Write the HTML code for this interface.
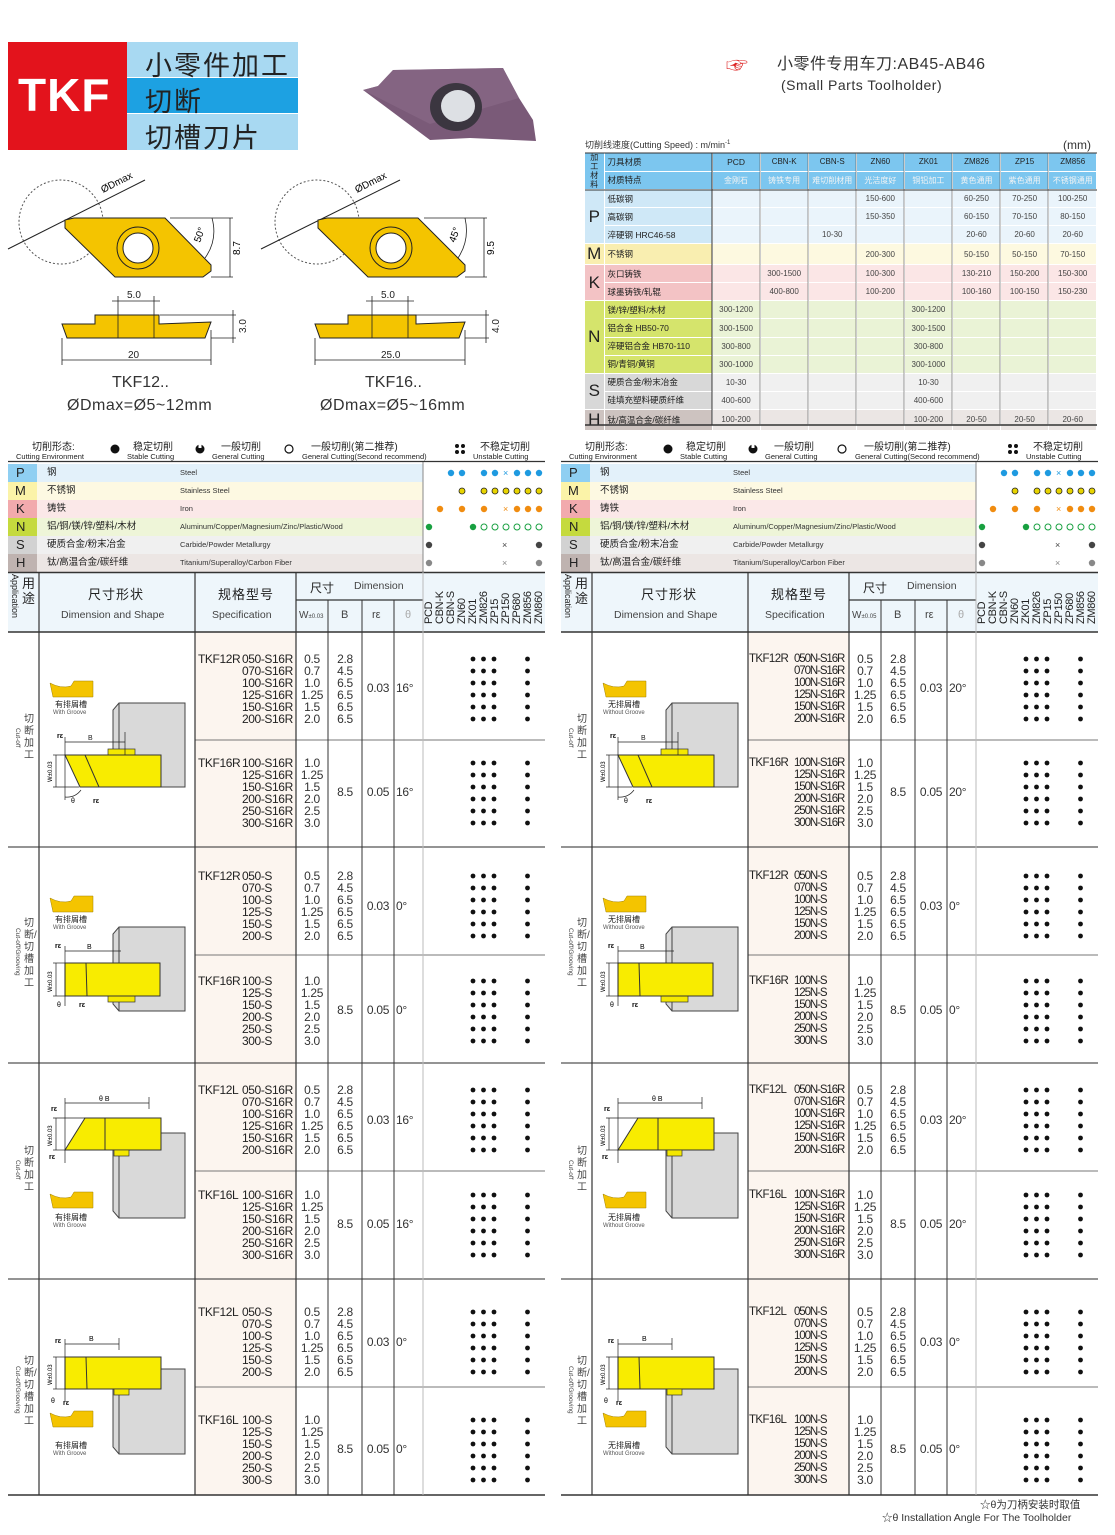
<!DOCTYPE html>
<html><head><meta charset="utf-8">
<style>
*{margin:0;padding:0;box-sizing:border-box}
body{width:1115px;height:1535px;position:relative;background:#fff;font-family:"Liberation Sans","Noto Sans CJK SC",sans-serif;color:#222;overflow:hidden}
.a{position:absolute;white-space:nowrap}
.pn{position:absolute;top:0;width:545px;height:1535px}
.sp{position:absolute;left:234px;font-size:12px;line-height:12px;letter-spacing:-0.4px}
.pf{position:absolute;left:-44px}
.pn2 .sp{left:233px;font-size:11.5px;letter-spacing:-1.1px}
.pn2 .pf{left:-45px;letter-spacing:-0.6px}
.c{position:absolute;text-align:center;font-size:12px;line-height:12px;letter-spacing:-0.3px;color:#333}
.w{left:288px;width:32px}.b{left:320px;width:34px}.r{left:354px;width:32px}.t{left:388px;width:26px;text-align:left}
.rot{position:absolute;transform:rotate(90deg);transform-origin:0 0;white-space:nowrap}
.gn{position:absolute;transform:rotate(-90deg);transform-origin:0 0;font-size:11px;white-space:nowrap;letter-spacing:-0.3px}
table.st{position:absolute;left:585px;top:153px;width:512px;border-collapse:collapse;font-size:8px;table-layout:fixed}
table.st td{height:18.08px;text-align:center;color:#444;border-right:1px solid #fff;border-bottom:1px solid #fff;padding:0;white-space:nowrap;overflow:hidden}
table.st td.n{text-align:left;padding-left:3px;font-size:8.5px;color:#222}
table.st td.L{font-size:17px;color:#222}
</style></head><body>

<div class="a" style="left:8px;top:42px;width:119px;height:108px;background:#e3131c"></div>
<div class="a" style="left:18px;top:68px;color:#fff;font-size:46px;font-weight:bold;letter-spacing:1px">TKF</div>
<div class="a" style="left:127px;top:42px;width:171px;height:35px;background:#a8d9f2"></div>
<div class="a" style="left:127px;top:78px;width:171px;height:35px;background:#1da1e2"></div>
<div class="a" style="left:127px;top:114px;width:171px;height:36px;background:#a8d9f2"></div>
<div class="a" style="left:145px;top:44px;font-size:27px;letter-spacing:2px">小零件加工</div>
<div class="a" style="left:145px;top:80px;font-size:27px;letter-spacing:2px">切断</div>
<div class="a" style="left:145px;top:116px;font-size:27px;letter-spacing:2px">切槽刀片</div>

<div class="a" style="left:726px;top:48px;font-size:22px;color:#d22">☞</div>
<div class="a" style="left:777px;top:50px;font-size:16px;color:#333;letter-spacing:0.5px">小零件专用车刀:AB45-AB46</div>
<div class="a" style="left:781px;top:77px;font-size:14px;color:#333;letter-spacing:0.5px">(Small Parts Toolholder)</div>

<div class="a" style="left:585px;top:138px;font-size:9px;color:#333">切削线速度(Cutting Speed) : m/min<sup style="font-size:6px">-1</sup></div>
<div class="a" style="left:1063px;top:138px;font-size:12px;color:#333">(mm)</div>

<svg class="a" style="left:0;top:0" width="560" height="430">
<polygon points="363,90 378,86 393,70 503,68 519,98 533,120 536,141 470,138 430,140" fill="#7a5a78"/>
<polygon points="363,90 378,86 393,70 503,68 519,98 430,124" fill="#8a6a88" opacity=".6"/>
<ellipse cx="456" cy="107" rx="26" ry="24" fill="#3b3640"/><ellipse cx="458" cy="106" rx="17" ry="16" fill="#dde0e4"/>
<g fill="none" stroke="#222" stroke-width="1">
<circle cx="61" cy="222" r="42" stroke-dasharray="2,2" stroke="#555"/>
<line x1="8" y1="249" x2="145" y2="180"/>
<circle cx="317" cy="222" r="42" stroke-dasharray="2,2" stroke="#555"/>
<line x1="261" y1="249" x2="400" y2="180"/>
</g>
<polygon points="65,220 74,218 165,218 211,265 211,271 203,277 115,277 65,228" fill="#f4c400" stroke="#222"/>
<circle cx="138" cy="248" r="21" fill="#f4c400" stroke="#222"/><circle cx="138" cy="248" r="15" fill="#fff" stroke="#222"/>
<polygon points="318,220 327,218 418,218 465,265 465,271 457,277 368,277 318,228" fill="#f4c400" stroke="#222"/>
<circle cx="391" cy="248" r="21" fill="#f4c400" stroke="#222"/><circle cx="391" cy="248" r="15" fill="#fff" stroke="#222"/>
<g stroke="#222" fill="none" stroke-width=".8">
<line x1="170" y1="218" x2="233" y2="218"/><line x1="211" y1="277" x2="233" y2="277"/><line x1="230" y1="218" x2="230" y2="277"/>
<line x1="424" y1="218" x2="487" y2="218"/><line x1="465" y1="277" x2="487" y2="277"/><line x1="484" y1="218" x2="484" y2="277"/>
<path d="M212,218 Q218,240 205,258"/><path d="M465,218 Q470,240 458,258"/>
</g>
<text x="200" y="243" font-size="10" transform="rotate(-70 200 243)" font-family="Liberation Sans">50°</text>
<text x="455" y="243" font-size="10" transform="rotate(-70 455 243)" font-family="Liberation Sans">45°</text>
<text x="240" y="255" font-size="10" transform="rotate(-90 240 255)" font-family="Liberation Sans">8.7</text>
<text x="494" y="255" font-size="10" transform="rotate(-90 494 255)" font-family="Liberation Sans">9.5</text>
<text x="103" y="193" font-size="10" transform="rotate(-27 103 193)" font-family="Liberation Sans">ØDmax</text>
<text x="357" y="193" font-size="10" transform="rotate(-27 357 193)" font-family="Liberation Sans">ØDmax</text>
<polygon points="62,324 95,324 95,315 159,315 159,324 211,322 205,338 67,338" fill="#f4c400" stroke="#222"/>
<polygon points="315,324 348,324 348,315 416,315 416,324 465,322 459,338 320,338" fill="#f4c400" stroke="#222"/>
<g stroke="#222" stroke-width=".8" fill="none">
<line x1="118" y1="296" x2="118" y2="338"/><line x1="154" y1="296" x2="154" y2="338"/><line x1="112" y1="301" x2="160" y2="301"/>
<line x1="372" y1="296" x2="372" y2="338"/><line x1="408" y1="296" x2="408" y2="338"/><line x1="366" y1="301" x2="414" y2="301"/>
<line x1="62" y1="338" x2="62" y2="365"/><line x1="211" y1="330" x2="211" y2="365"/><line x1="62" y1="360" x2="211" y2="360"/>
<line x1="315" y1="338" x2="315" y2="365"/><line x1="465" y1="330" x2="465" y2="365"/><line x1="315" y1="360" x2="465" y2="360"/>
<line x1="160" y1="315" x2="236" y2="315"/><line x1="211" y1="338" x2="236" y2="338"/><line x1="233" y1="310" x2="233" y2="343"/>
<line x1="416" y1="315" x2="489" y2="315"/><line x1="465" y1="338" x2="489" y2="338"/><line x1="486" y1="310" x2="486" y2="343"/>
</g>
<g font-family="Liberation Sans" font-size="10" fill="#222">
<text x="127" y="298">5.0</text><text x="381" y="298">5.0</text>
<text x="128" y="358">20</text><text x="381" y="358">25.0</text>
<text x="246" y="333" transform="rotate(-90 246 333)">3.0</text><text x="499" y="333" transform="rotate(-90 499 333)">4.0</text>
</g>
</svg>
<div class="a" style="left:112px;top:374px;font-size:16px;color:#333">TKF12..</div>
<div class="a" style="left:67px;top:397px;font-size:16px;color:#333;letter-spacing:.5px">ØDmax=Ø5~12mm</div>
<div class="a" style="left:365px;top:374px;font-size:16px;color:#333">TKF16..</div>
<div class="a" style="left:320px;top:397px;font-size:16px;color:#333;letter-spacing:.5px">ØDmax=Ø5~16mm</div>

<table class="st">
<colgroup><col style="width:19px"><col style="width:108px"><col span="8" style="width:48.1px"></colgroup>
<tr style="background:#7cc6ef"><td rowspan="2" style="font-size:8px;line-height:9px;color:#222">加<br>工<br>材<br>料</td><td class="n">刀具材质</td><td style="font-size:8.5px;color:#222">PCD</td><td style="color:#222">CBN-K</td><td style="color:#222">CBN-S</td><td style="color:#222">ZN60</td><td style="color:#222">ZK01</td><td style="color:#222">ZM826</td><td style="color:#222">ZP15</td><td style="color:#222">ZM856</td></tr>
<tr style="background:#7cc6ef;color:#fff"><td class="n">材质特点</td><td style="color:#f4f4f4">金刚石</td><td style="color:#f4f4f4">铸铁专用</td><td style="color:#f4f4f4">难切削材用</td><td style="color:#f4f4f4">光洁度好</td><td style="color:#f4f4f4">铜铝加工</td><td style="color:#f4f4f4">黄色通用</td><td style="color:#f4f4f4">紫色通用</td><td style="color:#f4f4f4">不锈钢通用</td></tr>
<tr style="background:#eaf4fb"><td rowspan="3" class="L" style="background:#cfe8f7">P</td><td class="n" style="background:#cfe8f7">低碳钢</td><td></td><td></td><td></td><td>150-600</td><td></td><td>60-250</td><td>70-250</td><td>100-250</td></tr>
<tr style="background:#eaf4fb"><td class="n" style="background:#cfe8f7">高碳钢</td><td></td><td></td><td></td><td>150-350</td><td></td><td>60-150</td><td>70-150</td><td>80-150</td></tr>
<tr style="background:#eaf4fb"><td class="n" style="background:#cfe8f7">淬硬钢 HRC46-58</td><td></td><td></td><td>10-30</td><td></td><td></td><td>20-60</td><td>20-60</td><td>20-60</td></tr>
<tr style="background:#fdf9e0"><td class="L" style="background:#f9eeb0">M</td><td class="n" style="background:#f9eeb0">不锈钢</td><td></td><td></td><td></td><td>200-300</td><td></td><td>50-150</td><td>50-150</td><td>70-150</td></tr>
<tr style="background:#fbe6e6"><td rowspan="2" class="L" style="background:#f3c3c5">K</td><td class="n" style="background:#f3c3c5">灰口铸铁</td><td></td><td>300-1500</td><td></td><td>100-300</td><td></td><td>130-210</td><td>150-200</td><td>150-300</td></tr>
<tr style="background:#fbe6e6"><td class="n" style="background:#f3c3c5">球墨铸铁/轧辊</td><td></td><td>400-800</td><td></td><td>100-200</td><td></td><td>100-160</td><td>100-150</td><td>150-230</td></tr>
<tr style="background:#eaf3d6"><td rowspan="4" class="L" style="background:#d5e46c">N</td><td class="n" style="background:#d5e46c">镁/锌/塑料/木材</td><td>300-1200</td><td></td><td></td><td></td><td>300-1200</td><td></td><td></td><td></td></tr>
<tr style="background:#eaf3d6"><td class="n" style="background:#d5e46c">铝合金 HB50-70</td><td>300-1500</td><td></td><td></td><td></td><td>300-1500</td><td></td><td></td><td></td></tr>
<tr style="background:#eaf3d6"><td class="n" style="background:#d5e46c">淬硬铝合金 HB70-110</td><td>300-800</td><td></td><td></td><td></td><td>300-800</td><td></td><td></td><td></td></tr>
<tr style="background:#eaf3d6"><td class="n" style="background:#d5e46c">铜/青铜/黄铜</td><td>300-1000</td><td></td><td></td><td></td><td>300-1000</td><td></td><td></td><td></td></tr>
<tr style="background:#f0f0f0"><td rowspan="2" class="L" style="background:#d8d8d8">S</td><td class="n" style="background:#d8d8d8">硬质合金/粉末冶金</td><td>10-30</td><td></td><td></td><td></td><td>10-30</td><td></td><td></td><td></td></tr>
<tr style="background:#f0f0f0"><td class="n" style="background:#d8d8d8">硅填充塑料硬质纤维</td><td>400-600</td><td></td><td></td><td></td><td>400-600</td><td></td><td></td><td></td></tr>
<tr style="background:#ebe6e4"><td class="L" style="background:#cdc3c0">H</td><td class="n" style="background:#cdc3c0">钛/高温合金/碳纤维</td><td>100-200</td><td></td><td></td><td></td><td>100-200</td><td>20-50</td><td>20-50</td><td>20-60</td></tr>
</table>
<svg class="a" style="left:0;top:0" width="1115" height="430"><line x1="585" y1="153" x2="1097" y2="153" stroke="#333"/><line x1="585" y1="425" x2="1097" y2="425" stroke="#333" stroke-width="1.5"/><line x1="712" y1="153" x2="712" y2="425" stroke="#333"/><line x1="760" y1="153" x2="760" y2="425" stroke="#555" stroke-width=".6"/><line x1="808" y1="153" x2="808" y2="425" stroke="#555" stroke-width=".6"/><line x1="856" y1="153" x2="856" y2="425" stroke="#555" stroke-width=".6"/><line x1="904" y1="153" x2="904" y2="425" stroke="#555" stroke-width=".6"/><line x1="952" y1="153" x2="952" y2="425" stroke="#555" stroke-width=".6"/><line x1="1000" y1="153" x2="1000" y2="425" stroke="#555" stroke-width=".6"/><line x1="1048" y1="153" x2="1048" y2="425" stroke="#555" stroke-width=".6"/><line x1="585" y1="190" x2="1097" y2="190" stroke="#333"/></svg>

<svg width="0" height="0" style="position:absolute">
<defs>
<g id="d6" fill="#111">
<circle cx="0" cy="0" r="2.4"/><circle cx="10.5" cy="0" r="2.4"/><circle cx="21" cy="0" r="2.4"/><circle cx="54.5" cy="0" r="2.4"/>
<circle cx="0" cy="12" r="2.4"/><circle cx="10.5" cy="12" r="2.4"/><circle cx="21" cy="12" r="2.4"/><circle cx="54.5" cy="12" r="2.4"/>
<circle cx="0" cy="24" r="2.4"/><circle cx="10.5" cy="24" r="2.4"/><circle cx="21" cy="24" r="2.4"/><circle cx="54.5" cy="24" r="2.4"/>
<circle cx="0" cy="36" r="2.4"/><circle cx="10.5" cy="36" r="2.4"/><circle cx="21" cy="36" r="2.4"/><circle cx="54.5" cy="36" r="2.4"/>
<circle cx="0" cy="48" r="2.4"/><circle cx="10.5" cy="48" r="2.4"/><circle cx="21" cy="48" r="2.4"/><circle cx="54.5" cy="48" r="2.4"/>
<circle cx="0" cy="60" r="2.4"/><circle cx="10.5" cy="60" r="2.4"/><circle cx="21" cy="60" r="2.4"/><circle cx="54.5" cy="60" r="2.4"/>
</g>
<g id="icoT"><path d="M11,51 Q22,57 32,54 L35,49 L54,49 L54,65 L14,65 Z" fill="#f4c400" stroke="#a08000" stroke-width=".5"/></g>
<g id="tR">
<path d="M80,71 L146,71 L146,155 L80,155 L74,148 L74,78 Z" fill="#d9d9d9" stroke="#444"/><line x1="80" y1="71" x2="80" y2="155" stroke="#444"/>
<rect x="69" y="117" width="27" height="6" fill="#f4e800" stroke="#333" stroke-width=".7"/>
<polygon points="26,123 122,123 122,155 41,155" fill="#f8ec00" stroke="#333"/>
<line x1="46" y1="123" x2="60" y2="155" stroke="#333"/>
<g stroke="#222" stroke-width=".7" fill="none"><line x1="26" y1="110" x2="86" y2="110"/><line x1="86" y1="100" x2="86" y2="123"/><line x1="26" y1="105" x2="26" y2="168"/><line x1="14" y1="123" x2="26" y2="123"/><line x1="14" y1="155" x2="40" y2="155"/><line x1="17" y1="123" x2="17" y2="155"/><path d="M26,165 Q36,166 42,158"/></g>
<text x="49" y="108" font-size="7" font-family="Liberation Sans" fill="#222">B</text><text x="18" y="106" font-size="7" font-weight="bold" font-family="Liberation Sans">rε</text><text x="54" y="171" font-size="7" font-weight="bold" font-family="Liberation Sans">rε</text><text x="32" y="171" font-size="7" font-family="Liberation Sans">θ</text>
<text x="13" y="150" font-size="6" font-family="Liberation Sans" transform="rotate(-90 13 150)">W±0.03</text>
</g>
<g id="tR0">
<path d="M80,71 L146,71 L146,155 L80,155 L74,148 L74,78 Z" fill="#d9d9d9" stroke="#444"/><line x1="80" y1="71" x2="80" y2="155" stroke="#444"/>
<rect x="69" y="140" width="27" height="6" fill="#f4e800" stroke="#333" stroke-width=".7"/>
<rect x="26" y="107" width="95" height="33" fill="#f8ec00" stroke="#333"/>
<line x1="47" y1="107" x2="48" y2="140" stroke="#333"/>
<g stroke="#222" stroke-width=".7" fill="none"><line x1="26" y1="95" x2="82" y2="95"/><line x1="26" y1="90" x2="26" y2="150"/><line x1="14" y1="107" x2="26" y2="107"/><line x1="14" y1="140" x2="26" y2="140"/><line x1="17" y1="107" x2="17" y2="140"/></g>
<text x="48" y="93" font-size="7" font-family="Liberation Sans">B</text><text x="16" y="92" font-size="7" font-weight="bold" font-family="Liberation Sans">rε</text><text x="40" y="151" font-size="7" font-weight="bold" font-family="Liberation Sans">rε</text><text x="18" y="151" font-size="7" font-family="Liberation Sans">θ</text>
<text x="13" y="136" font-size="6" font-family="Liberation Sans" transform="rotate(-90 13 136)">W±0.03</text>
</g>
<g id="tL">
<path d="M80,70 L146,70 L146,155 L80,155 L74,148 L74,77 Z" fill="#d9d9d9" stroke="#444"/><line x1="80" y1="70" x2="80" y2="155" stroke="#444"/>
<polygon points="46,55 122,55 122,87 26,87" fill="#f8ec00" stroke="#333"/>
<line x1="66" y1="55" x2="66" y2="87" stroke="#333"/>
<rect x="75" y="87" width="15" height="6" fill="#f4e800" stroke="#333" stroke-width=".7"/>
<g stroke="#222" stroke-width=".7" fill="none"><line x1="26" y1="40" x2="110" y2="40"/><line x1="110" y1="34" x2="110" y2="46"/><line x1="26" y1="35" x2="26" y2="100"/><line x1="14" y1="55" x2="46" y2="55"/><line x1="14" y1="87" x2="26" y2="87"/><line x1="17" y1="55" x2="17" y2="87"/></g>
<text x="60" y="38" font-size="7" font-family="Liberation Sans">θ  B</text><text x="12" y="48" font-size="7" font-weight="bold" font-family="Liberation Sans">rε</text><text x="10" y="96" font-size="7" font-weight="bold" font-family="Liberation Sans">rε</text>
<text x="13" y="83" font-size="6" font-family="Liberation Sans" transform="rotate(-90 13 83)">W±0.03</text>
</g>
<g id="tL0">
<path d="M80,70 L146,70 L146,155 L80,155 L74,148 L74,77 Z" fill="#d9d9d9" stroke="#444"/><line x1="80" y1="70" x2="80" y2="155" stroke="#444"/>
<rect x="26" y="58" width="96" height="32" fill="#f8ec00" stroke="#333"/>
<line x1="47" y1="58" x2="48" y2="90" stroke="#333"/>
<rect x="75" y="90" width="15" height="6" fill="#f4e800" stroke="#333" stroke-width=".7"/>
<g stroke="#222" stroke-width=".7" fill="none"><line x1="26" y1="45" x2="80" y2="45"/><line x1="80" y1="39" x2="80" y2="51"/><line x1="26" y1="40" x2="26" y2="102"/><line x1="14" y1="58" x2="26" y2="58"/><line x1="14" y1="90" x2="26" y2="90"/><line x1="17" y1="58" x2="17" y2="90"/></g>
<text x="50" y="42" font-size="7" font-family="Liberation Sans">B</text><text x="16" y="44" font-size="7" font-weight="bold" font-family="Liberation Sans">rε</text><text x="24" y="106" font-size="7" font-weight="bold" font-family="Liberation Sans">rε</text><text x="12" y="104" font-size="7" font-family="Liberation Sans">θ</text>
<text x="13" y="86" font-size="6" font-family="Liberation Sans" transform="rotate(-90 13 86)">W±0.03</text>
</g>
<g id="leg">
<circle cx="107" cy="12" r="4.5" fill="#111"/>
<circle cx="192" cy="12" r="4.5" fill="#111"/><rect x="190.5" y="7" width="3" height="4" fill="#fff"/>
<circle cx="281" cy="12" r="4" fill="none" stroke="#111" stroke-width="1.2"/>
<g fill="#111"><circle cx="449" cy="9" r="2"/><circle cx="455" cy="9" r="2"/><circle cx="449" cy="15" r="2"/><circle cx="455" cy="15" r="2"/></g>
</g>
<g id="mat">
<rect x="0" y="464" width="29" height="18" fill="#8fcff2"/><rect x="29" y="464" width="386" height="18" fill="#e3f1fa"/>
<rect x="0" y="482" width="29" height="18" fill="#fbf3a8"/><rect x="29" y="482" width="386" height="18" fill="#fdf9e2"/>
<rect x="0" y="500" width="29" height="18" fill="#f2aaad"/><rect x="29" y="500" width="386" height="18" fill="#fbe8e8"/>
<rect x="0" y="518" width="29" height="18" fill="#c5da3e"/><rect x="29" y="518" width="386" height="18" fill="#eef5d8"/>
<rect x="0" y="536" width="29" height="18" fill="#d2d2d2"/><rect x="29" y="536" width="386" height="18" fill="#f0f0f0"/>
<rect x="0" y="554" width="29" height="18" fill="#bfb3b0"/><rect x="29" y="554" width="386" height="18" fill="#ece6e4"/>
<g fill="#1e9ae0"><circle cx="443" cy="473" r="3.2"/><circle cx="454" cy="473" r="3.2"/><circle cx="476" cy="473" r="3.2"/><circle cx="487" cy="473" r="3.2"/><circle cx="509" cy="473" r="3.2"/><circle cx="520" cy="473" r="3.2"/><circle cx="531" cy="473" r="3.2"/></g>
<text x="495" y="476" font-size="9" fill="#1e9ae0" font-family="Liberation Sans">×</text>
<g fill="#e8d400" stroke="#222" stroke-width=".8"><circle cx="454" cy="491" r="3"/><circle cx="476" cy="491" r="3"/><circle cx="487" cy="491" r="3"/><circle cx="498" cy="491" r="3"/><circle cx="509" cy="491" r="3"/><circle cx="520" cy="491" r="3"/><circle cx="531" cy="491" r="3"/></g>
<g fill="#f08c10"><circle cx="432" cy="509" r="3.2"/><circle cx="454" cy="509" r="3.2"/><circle cx="476" cy="509" r="3.2"/><circle cx="509" cy="509" r="3.2"/><circle cx="520" cy="509" r="3.2"/><circle cx="531" cy="509" r="3.2"/></g>
<text x="495" y="512" font-size="9" fill="#f08c10" font-family="Liberation Sans">×</text>
<circle cx="421" cy="527" r="3.2" fill="#18a040"/><circle cx="465" cy="527" r="3.2" fill="#18a040"/>
<g fill="none" stroke="#18a040" stroke-width="1"><circle cx="476" cy="527" r="3"/><circle cx="487" cy="527" r="3"/><circle cx="498" cy="527" r="3"/><circle cx="509" cy="527" r="3"/><circle cx="520" cy="527" r="3"/><circle cx="531" cy="527" r="3"/></g>
<circle cx="421" cy="545" r="3.2" fill="#444"/><circle cx="531" cy="545" r="3.2" fill="#444"/><text x="494" y="548" font-size="9" fill="#444" font-family="Liberation Sans">×</text>
<circle cx="421" cy="563" r="3.2" fill="#888"/><circle cx="531" cy="563" r="3.2" fill="#888"/><text x="494" y="566" font-size="9" fill="#888" font-family="Liberation Sans">×</text>
<line x1="415" y1="461" x2="415" y2="572" stroke="#888"/>
<rect x="0" y="572" width="537" height="60" fill="#eef6fb"/>
<rect x="187" y="632" width="101" height="863" fill="#fcf5ef"/>
<g stroke="#333" fill="none">
<line x1="0" y1="461.5" x2="537" y2="461.5" stroke-width="1.3"/>
<line x1="0" y1="572.5" x2="537" y2="572.5" stroke-width="1.5"/>
<line x1="0" y1="632" x2="537" y2="632" stroke-width="1.5"/>
<line x1="0" y1="847" x2="537" y2="847" stroke-width="1.2" stroke="#555"/>
<line x1="0" y1="1063" x2="537" y2="1063" stroke-width="1.2" stroke="#555"/>
<line x1="0" y1="1279" x2="537" y2="1279" stroke-width="1.2" stroke="#555"/>
<line x1="0" y1="1495" x2="537" y2="1495" stroke-width="1.5"/>
<line x1="187" y1="740" x2="537" y2="740" stroke="#777"/><line x1="187" y1="955" x2="537" y2="955" stroke="#777"/><line x1="187" y1="1171" x2="537" y2="1171" stroke="#777"/><line x1="187" y1="1387" x2="537" y2="1387" stroke="#777"/>
<line x1="31" y1="572" x2="31" y2="1495" stroke-width="1.2"/><line x1="187" y1="572" x2="187" y2="1495" stroke-width="1.2"/><line x1="288" y1="572" x2="288" y2="1495" stroke-width="1.2"/>
<line x1="288" y1="600" x2="415" y2="600" stroke-width="1.2"/>
<line x1="320" y1="600" x2="320" y2="1495"/><line x1="354" y1="600" x2="354" y2="1495"/><line x1="386" y1="600" x2="386" y2="1495"/>
<line x1="415" y1="572" x2="415" y2="1495" stroke="#bbb"/>
</g>
<use href="#d6" x="465" y="659"/><use href="#d6" x="465" y="763"/>
<use href="#d6" x="465" y="876"/><use href="#d6" x="465" y="981"/>
<use href="#d6" x="465" y="1090"/><use href="#d6" x="465" y="1195"/>
<use href="#d6" x="465" y="1312"/><use href="#d6" x="465" y="1420"/>
</g>
</defs>
</svg>

<div class="pn" style="left:8px">
<svg class="a" style="left:0;top:0" width="545" height="1535">
<use href="#leg" y="437"/><use href="#mat"/>
<g transform="translate(31,632)"><use href="#icoT"/><use href="#tR"/></g>
<g transform="translate(31,847)"><use href="#icoT"/><use href="#tR0" y="9"/></g>
<g transform="translate(31,1063)"><use href="#icoT" y="80"/><use href="#tL"/></g>
<g transform="translate(31,1279)"><use href="#icoT" y="83"/><use href="#tL0" y="20"/></g>
</svg>
</div>
<div class="pn" style="left:561px">
<svg class="a" style="left:0;top:0" width="545" height="1535">
<use href="#leg" y="437"/><use href="#mat"/>
<g transform="translate(31,632)"><use href="#icoT"/><use href="#tR"/></g>
<g transform="translate(31,847)"><use href="#icoT"/><use href="#tR0" y="9"/></g>
<g transform="translate(31,1063)"><use href="#icoT" y="80"/><use href="#tL"/></g>
<g transform="translate(31,1279)"><use href="#icoT" y="83"/><use href="#tL0" y="20"/></g>
</svg>
</div>

<div class="pn" style="left:8px">
<div class="a" style="left:24px;top:438px;font-size:10px">切削形态:</div><div class="a" style="left:8px;top:452px;font-size:7.5px">Cutting Environment</div>
<div class="a" style="left:125px;top:438px;font-size:10px">稳定切削</div><div class="a" style="left:119px;top:452px;font-size:7.5px">Stable Cutting</div>
<div class="a" style="left:213px;top:438px;font-size:10px">一般切削</div><div class="a" style="left:204px;top:452px;font-size:7.5px">General Cutting</div>
<div class="a" style="left:303px;top:438px;font-size:10px">一般切削(第二推荐)</div><div class="a" style="left:294px;top:452px;font-size:7.5px">General Cutting(Second recommend)</div>
<div class="a" style="left:472px;top:438px;font-size:10px">不稳定切削</div><div class="a" style="left:465px;top:452px;font-size:7.5px">Unstable Cutting</div>
<div class="a" style="left:8px;top:464px;font-size:13px;line-height:18px">P</div><div class="a" style="left:7px;top:482px;font-size:13px;line-height:18px">M</div><div class="a" style="left:8px;top:500px;font-size:13px;line-height:18px">K</div><div class="a" style="left:8px;top:518px;font-size:13px;line-height:18px">N</div><div class="a" style="left:8px;top:536px;font-size:13px;line-height:18px">S</div><div class="a" style="left:8px;top:554px;font-size:13px;line-height:18px">H</div>
<div class="a" style="left:39px;top:464px;font-size:9.5px;line-height:18px">钢<br>不锈钢<br>铸铁<br>铝/铜/镁/锌/塑料/木材<br>硬质合金/粉末冶金<br>钛/高温合金/碳纤维</div>
<div class="a" style="left:172px;top:464px;font-size:7.5px;line-height:18px;color:#333">Steel<br>Stainless Steel<br>Iron<br>Aluminum/Copper/Magnesium/Zinc/Plastic/Wood<br>Carbide/Powder Metallurgy<br>Titanium/Superalloy/Carbon Fiber</div>
<div class="a" style="left:14px;top:576px;font-size:13px;line-height:15px;width:14px;white-space:normal">用途</div>
<div class="rot" style="left:12px;top:574px;font-size:9px">Application</div>
<div class="a" style="left:80px;top:584px;font-size:13px;letter-spacing:1px">尺寸形状</div><div class="a" style="left:53px;top:609px;font-size:10.5px;color:#444">Dimension and Shape</div>
<div class="a" style="left:210px;top:584px;font-size:13px;letter-spacing:1px">规格型号</div><div class="a" style="left:204px;top:609px;font-size:10.5px;color:#444">Specification</div>
<div class="a" style="left:302px;top:579px;font-size:12px">尺寸</div><div class="a" style="left:346px;top:580px;font-size:10.5px;color:#444">Dimension</div>
<div class="a" style="left:291px;top:610px;font-size:10px;color:#444">W<span style="font-size:6px">±0.03</span></div><div class="a" style="left:333px;top:609px;font-size:11px;color:#444">B</div><div class="a" style="left:364px;top:609px;font-size:11px;color:#444">rε</div><div class="a" style="left:397px;top:609px;font-size:11px;color:#aaa">θ</div>
<div class="gn" style="left:415px;top:624px">PCD</div><div class="gn" style="left:426px;top:624px">CBN-K</div><div class="gn" style="left:437px;top:624px">CBN-S</div><div class="gn" style="left:448px;top:624px">ZN60</div><div class="gn" style="left:459px;top:624px">ZK01</div><div class="gn" style="left:470px;top:624px">ZM826</div><div class="gn" style="left:481px;top:624px">ZP15</div><div class="gn" style="left:492px;top:624px">ZP150</div><div class="gn" style="left:503px;top:624px">ZP680</div><div class="gn" style="left:514px;top:624px">ZM856</div><div class="gn" style="left:525px;top:624px">ZM860</div>
<div class="a" style="left:16px;top:714px;font-size:10px;line-height:12px;width:12px;white-space:normal;color:#444">切断加工</div><div class="rot" style="left:13px;top:728px;font-size:6.5px;color:#444">Cut-off</div>
<div class="a" style="left:16px;top:918px;font-size:10px;line-height:12px;width:12px;white-space:normal;color:#444">切断/切槽加工</div><div class="rot" style="left:13px;top:928px;font-size:6.5px;color:#444">Cut-off/Grooving</div>
<div class="a" style="left:16px;top:1146px;font-size:10px;line-height:12px;width:12px;white-space:normal;color:#444">切断加工</div><div class="rot" style="left:13px;top:1160px;font-size:6.5px;color:#444">Cut-off</div>
<div class="a" style="left:16px;top:1356px;font-size:10px;line-height:12px;width:12px;white-space:normal;color:#444">切断/切槽加工</div><div class="rot" style="left:13px;top:1366px;font-size:6.5px;color:#444">Cut-off/Grooving</div>
<div class="a" style="left:47px;top:699px;font-size:8px">有排屑槽</div><div class="a" style="left:45px;top:710px;font-size:6px;color:#555">With Groove</div>
<div class="a" style="left:47px;top:914px;font-size:8px">有排屑槽</div><div class="a" style="left:45px;top:925px;font-size:6px;color:#555">With Groove</div>
<div class="a" style="left:47px;top:1212px;font-size:8px">有排屑槽</div><div class="a" style="left:45px;top:1223px;font-size:6px;color:#555">With Groove</div>
<div class="a" style="left:47px;top:1440px;font-size:8px">有排屑槽</div><div class="a" style="left:45px;top:1451px;font-size:6px;color:#555">With Groove</div>
<div class="sp" style="top:653px"><span class="pf">TKF12R</span>050-S16R<br>070-S16R<br>100-S16R<br>125-S16R<br>150-S16R<br>200-S16R</div>
<div class="c w" style="top:653px">0.5<br>0.7<br>1.0<br>1.25<br>1.5<br>2.0</div><div class="c b" style="top:653px">2.8<br>4.5<br>6.5<br>6.5<br>6.5<br>6.5</div><div class="c r" style="top:682px">0.03</div><div class="c t" style="top:682px">16°</div>
<div class="sp" style="top:757px"><span class="pf">TKF16R</span>100-S16R<br>125-S16R<br>150-S16R<br>200-S16R<br>250-S16R<br>300-S16R</div>
<div class="c w" style="top:757px">1.0<br>1.25<br>1.5<br>2.0<br>2.5<br>3.0</div><div class="c b" style="top:786px">8.5</div><div class="c r" style="top:786px">0.05</div><div class="c t" style="top:786px">16°</div>
<div class="sp" style="top:870px"><span class="pf">TKF12R</span>050-S<br>070-S<br>100-S<br>125-S<br>150-S<br>200-S</div>
<div class="c w" style="top:870px">0.5<br>0.7<br>1.0<br>1.25<br>1.5<br>2.0</div><div class="c b" style="top:870px">2.8<br>4.5<br>6.5<br>6.5<br>6.5<br>6.5</div><div class="c r" style="top:900px">0.03</div><div class="c t" style="top:900px">0°</div>
<div class="sp" style="top:975px"><span class="pf">TKF16R</span>100-S<br>125-S<br>150-S<br>200-S<br>250-S<br>300-S</div>
<div class="c w" style="top:975px">1.0<br>1.25<br>1.5<br>2.0<br>2.5<br>3.0</div><div class="c b" style="top:1004px">8.5</div><div class="c r" style="top:1004px">0.05</div><div class="c t" style="top:1004px">0°</div>
<div class="sp" style="top:1084px"><span class="pf">TKF12L</span>050-S16R<br>070-S16R<br>100-S16R<br>125-S16R<br>150-S16R<br>200-S16R</div>
<div class="c w" style="top:1084px">0.5<br>0.7<br>1.0<br>1.25<br>1.5<br>2.0</div><div class="c b" style="top:1084px">2.8<br>4.5<br>6.5<br>6.5<br>6.5<br>6.5</div><div class="c r" style="top:1114px">0.03</div><div class="c t" style="top:1114px">16°</div>
<div class="sp" style="top:1189px"><span class="pf">TKF16L</span>100-S16R<br>125-S16R<br>150-S16R<br>200-S16R<br>250-S16R<br>300-S16R</div>
<div class="c w" style="top:1189px">1.0<br>1.25<br>1.5<br>2.0<br>2.5<br>3.0</div><div class="c b" style="top:1218px">8.5</div><div class="c r" style="top:1218px">0.05</div><div class="c t" style="top:1218px">16°</div>
<div class="sp" style="top:1306px"><span class="pf">TKF12L</span>050-S<br>070-S<br>100-S<br>125-S<br>150-S<br>200-S</div>
<div class="c w" style="top:1306px">0.5<br>0.7<br>1.0<br>1.25<br>1.5<br>2.0</div><div class="c b" style="top:1306px">2.8<br>4.5<br>6.5<br>6.5<br>6.5<br>6.5</div><div class="c r" style="top:1336px">0.03</div><div class="c t" style="top:1336px">0°</div>
<div class="sp" style="top:1414px"><span class="pf">TKF16L</span>100-S<br>125-S<br>150-S<br>200-S<br>250-S<br>300-S</div>
<div class="c w" style="top:1414px">1.0<br>1.25<br>1.5<br>2.0<br>2.5<br>3.0</div><div class="c b" style="top:1443px">8.5</div><div class="c r" style="top:1443px">0.05</div><div class="c t" style="top:1443px">0°</div>
</div>

<div class="pn pn2" style="left:561px">
<div class="a" style="left:24px;top:438px;font-size:10px">切削形态:</div><div class="a" style="left:8px;top:452px;font-size:7.5px">Cutting Environment</div>
<div class="a" style="left:125px;top:438px;font-size:10px">稳定切削</div><div class="a" style="left:119px;top:452px;font-size:7.5px">Stable Cutting</div>
<div class="a" style="left:213px;top:438px;font-size:10px">一般切削</div><div class="a" style="left:204px;top:452px;font-size:7.5px">General Cutting</div>
<div class="a" style="left:303px;top:438px;font-size:10px">一般切削(第二推荐)</div><div class="a" style="left:294px;top:452px;font-size:7.5px">General Cutting(Second recommend)</div>
<div class="a" style="left:472px;top:438px;font-size:10px">不稳定切削</div><div class="a" style="left:465px;top:452px;font-size:7.5px">Unstable Cutting</div>
<div class="a" style="left:8px;top:464px;font-size:13px;line-height:18px">P</div><div class="a" style="left:7px;top:482px;font-size:13px;line-height:18px">M</div><div class="a" style="left:8px;top:500px;font-size:13px;line-height:18px">K</div><div class="a" style="left:8px;top:518px;font-size:13px;line-height:18px">N</div><div class="a" style="left:8px;top:536px;font-size:13px;line-height:18px">S</div><div class="a" style="left:8px;top:554px;font-size:13px;line-height:18px">H</div>
<div class="a" style="left:39px;top:464px;font-size:9.5px;line-height:18px">钢<br>不锈钢<br>铸铁<br>铝/铜/镁/锌/塑料/木材<br>硬质合金/粉末冶金<br>钛/高温合金/碳纤维</div>
<div class="a" style="left:172px;top:464px;font-size:7.5px;line-height:18px;color:#333">Steel<br>Stainless Steel<br>Iron<br>Aluminum/Copper/Magnesium/Zinc/Plastic/Wood<br>Carbide/Powder Metallurgy<br>Titanium/Superalloy/Carbon Fiber</div>
<div class="a" style="left:14px;top:576px;font-size:13px;line-height:15px;width:14px;white-space:normal">用途</div>
<div class="rot" style="left:12px;top:574px;font-size:9px">Application</div>
<div class="a" style="left:80px;top:584px;font-size:13px;letter-spacing:1px">尺寸形状</div><div class="a" style="left:53px;top:609px;font-size:10.5px;color:#444">Dimension and Shape</div>
<div class="a" style="left:210px;top:584px;font-size:13px;letter-spacing:1px">规格型号</div><div class="a" style="left:204px;top:609px;font-size:10.5px;color:#444">Specification</div>
<div class="a" style="left:302px;top:579px;font-size:12px">尺寸</div><div class="a" style="left:346px;top:580px;font-size:10.5px;color:#444">Dimension</div>
<div class="a" style="left:291px;top:610px;font-size:10px;color:#444">W<span style="font-size:6px">±0.05</span></div><div class="a" style="left:333px;top:609px;font-size:11px;color:#444">B</div><div class="a" style="left:364px;top:609px;font-size:11px;color:#444">rε</div><div class="a" style="left:397px;top:609px;font-size:11px;color:#aaa">θ</div>
<div class="gn" style="left:415px;top:624px">PCD</div><div class="gn" style="left:426px;top:624px">CBN-K</div><div class="gn" style="left:437px;top:624px">CBN-S</div><div class="gn" style="left:448px;top:624px">ZN60</div><div class="gn" style="left:459px;top:624px">ZK01</div><div class="gn" style="left:470px;top:624px">ZM826</div><div class="gn" style="left:481px;top:624px">ZP15</div><div class="gn" style="left:492px;top:624px">ZP150</div><div class="gn" style="left:503px;top:624px">ZP680</div><div class="gn" style="left:514px;top:624px">ZM856</div><div class="gn" style="left:525px;top:624px">ZM860</div>
<div class="a" style="left:16px;top:714px;font-size:10px;line-height:12px;width:12px;white-space:normal;color:#444">切断加工</div><div class="rot" style="left:13px;top:728px;font-size:6.5px;color:#444">Cut-off</div>
<div class="a" style="left:16px;top:918px;font-size:10px;line-height:12px;width:12px;white-space:normal;color:#444">切断/切槽加工</div><div class="rot" style="left:13px;top:928px;font-size:6.5px;color:#444">Cut-off/Grooving</div>
<div class="a" style="left:16px;top:1146px;font-size:10px;line-height:12px;width:12px;white-space:normal;color:#444">切断加工</div><div class="rot" style="left:13px;top:1160px;font-size:6.5px;color:#444">Cut-off</div>
<div class="a" style="left:16px;top:1356px;font-size:10px;line-height:12px;width:12px;white-space:normal;color:#444">切断/切槽加工</div><div class="rot" style="left:13px;top:1366px;font-size:6.5px;color:#444">Cut-off/Grooving</div>
<div class="a" style="left:47px;top:699px;font-size:8px">无排屑槽</div><div class="a" style="left:42px;top:710px;font-size:6px;color:#555">Without Groove</div>
<div class="a" style="left:47px;top:914px;font-size:8px">无排屑槽</div><div class="a" style="left:42px;top:925px;font-size:6px;color:#555">Without Groove</div>
<div class="a" style="left:47px;top:1212px;font-size:8px">无排屑槽</div><div class="a" style="left:42px;top:1223px;font-size:6px;color:#555">Without Groove</div>
<div class="a" style="left:47px;top:1440px;font-size:8px">无排屑槽</div><div class="a" style="left:42px;top:1451px;font-size:6px;color:#555">Without Groove</div>
<div class="sp" style="top:653px"><span class="pf">TKF12R</span>050N-S16R<br>070N-S16R<br>100N-S16R<br>125N-S16R<br>150N-S16R<br>200N-S16R</div>
<div class="c w" style="top:653px">0.5<br>0.7<br>1.0<br>1.25<br>1.5<br>2.0</div><div class="c b" style="top:653px">2.8<br>4.5<br>6.5<br>6.5<br>6.5<br>6.5</div><div class="c r" style="top:682px">0.03</div><div class="c t" style="top:682px">20°</div>
<div class="sp" style="top:757px"><span class="pf">TKF16R</span>100N-S16R<br>125N-S16R<br>150N-S16R<br>200N-S16R<br>250N-S16R<br>300N-S16R</div>
<div class="c w" style="top:757px">1.0<br>1.25<br>1.5<br>2.0<br>2.5<br>3.0</div><div class="c b" style="top:786px">8.5</div><div class="c r" style="top:786px">0.05</div><div class="c t" style="top:786px">20°</div>
<div class="sp" style="top:870px"><span class="pf">TKF12R</span>050N-S<br>070N-S<br>100N-S<br>125N-S<br>150N-S<br>200N-S</div>
<div class="c w" style="top:870px">0.5<br>0.7<br>1.0<br>1.25<br>1.5<br>2.0</div><div class="c b" style="top:870px">2.8<br>4.5<br>6.5<br>6.5<br>6.5<br>6.5</div><div class="c r" style="top:900px">0.03</div><div class="c t" style="top:900px">0°</div>
<div class="sp" style="top:975px"><span class="pf">TKF16R</span>100N-S<br>125N-S<br>150N-S<br>200N-S<br>250N-S<br>300N-S</div>
<div class="c w" style="top:975px">1.0<br>1.25<br>1.5<br>2.0<br>2.5<br>3.0</div><div class="c b" style="top:1004px">8.5</div><div class="c r" style="top:1004px">0.05</div><div class="c t" style="top:1004px">0°</div>
<div class="sp" style="top:1084px"><span class="pf">TKF12L</span>050N-S16R<br>070N-S16R<br>100N-S16R<br>125N-S16R<br>150N-S16R<br>200N-S16R</div>
<div class="c w" style="top:1084px">0.5<br>0.7<br>1.0<br>1.25<br>1.5<br>2.0</div><div class="c b" style="top:1084px">2.8<br>4.5<br>6.5<br>6.5<br>6.5<br>6.5</div><div class="c r" style="top:1114px">0.03</div><div class="c t" style="top:1114px">20°</div>
<div class="sp" style="top:1189px"><span class="pf">TKF16L</span>100N-S16R<br>125N-S16R<br>150N-S16R<br>200N-S16R<br>250N-S16R<br>300N-S16R</div>
<div class="c w" style="top:1189px">1.0<br>1.25<br>1.5<br>2.0<br>2.5<br>3.0</div><div class="c b" style="top:1218px">8.5</div><div class="c r" style="top:1218px">0.05</div><div class="c t" style="top:1218px">20°</div>
<div class="sp" style="top:1306px"><span class="pf">TKF12L</span>050N-S<br>070N-S<br>100N-S<br>125N-S<br>150N-S<br>200N-S</div>
<div class="c w" style="top:1306px">0.5<br>0.7<br>1.0<br>1.25<br>1.5<br>2.0</div><div class="c b" style="top:1306px">2.8<br>4.5<br>6.5<br>6.5<br>6.5<br>6.5</div><div class="c r" style="top:1336px">0.03</div><div class="c t" style="top:1336px">0°</div>
<div class="sp" style="top:1414px"><span class="pf">TKF16L</span>100N-S<br>125N-S<br>150N-S<br>200N-S<br>250N-S<br>300N-S</div>
<div class="c w" style="top:1414px">1.0<br>1.25<br>1.5<br>2.0<br>2.5<br>3.0</div><div class="c b" style="top:1443px">8.5</div><div class="c r" style="top:1443px">0.05</div><div class="c t" style="top:1443px">0°</div>
</div>

<div class="a" style="left:980px;top:1497px;font-size:10.5px;color:#333">☆θ为刀柄安装时取值</div>
<div class="a" style="left:882px;top:1510px;font-size:10.5px;color:#333">☆θ Installation Angle For The Toolholder</div>
</body></html>
